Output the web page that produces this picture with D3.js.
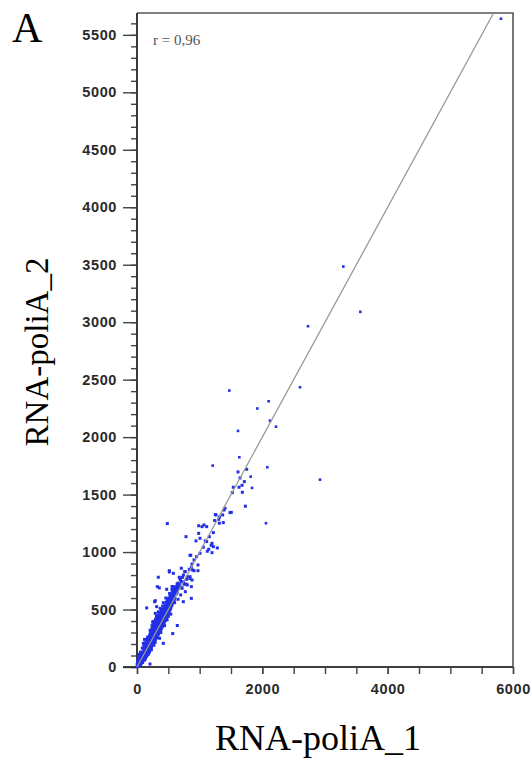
<!DOCTYPE html>
<html>
<head>
<meta charset="utf-8">
<script src="https://cdn.jsdelivr.net/npm/d3@7"></script>
<style>
  html, body { margin: 0; padding: 0; background: #fff; }
  svg { display: block; }
</style>
</head>
<body>
<svg id="chart" width="532" height="760"></svg>
<script>
// Expression values, replicate 1 (x) vs replicate 2 (y)
const denseCloud = [
  [5,8],[10,4],[12,15],[18,10],[20,25],[25,18],[30,30],[35,22],[38,45],[42,35],[45,50],[50,40],
  [55,62],[58,48],[60,70],[65,55],[68,80],[70,62],[75,88],[78,70],[80,60],[85,95],[88,78],[90,105],
  [92,85],[95,70],[98,110],[100,92],[15,60],[25,80],[40,110],[8,40],[30,95],[55,130],[20,45],
  [60,20],[90,40],[120,60],[70,35],[45,15],[3,25],[28,55],[48,72],[62,100],[82,120],[15,35],
  [102,120],[105,98],[108,135],[110,85],[112,115],[115,140],[118,102],[120,125],[122,150],[125,110],
  [128,135],[130,95],[132,160],[135,122],[138,148],[140,130],[142,170],[145,115],[148,155],[150,140],
  [152,182],[155,125],[158,165],[160,150],[162,195],[165,138],[168,175],[170,160],[172,205],[175,145],
  [178,185],[180,168],[182,215],[185,150],[188,195],[190,178],[192,230],[195,162],[198,205],[200,188],
  [110,190],[130,210],[150,240],[85,165],[170,260],[120,240],[150,90],[180,110],[200,130],[165,105],
  [202,250],[205,175],[208,220],[210,198],[212,265],[215,185],[218,235],[220,210],[222,280],[225,195],
  [228,250],[230,222],[232,295],[235,205],[238,262],[240,232],[242,310],[245,215],[248,275],[250,245],
  [252,325],[255,228],[258,288],[260,255],[262,340],[265,238],[268,300],[270,268],[272,355],[275,250],
  [278,312],[280,278],[282,370],[285,260],[288,325],[290,290],[292,385],[295,270],[298,338],[300,300],
  [210,320],[240,360],[260,395],[230,150],[270,190],[290,215],[220,160],[250,390],
  [302,355],[305,282],[310,330],[315,295],[318,400],[320,340],[325,305],[328,375],[330,350],[335,315],
  [338,420],[340,362],[345,325],[348,395],[350,372],[355,335],[358,440],[360,385],[365,345],[368,410],
  [370,395],[375,355],[378,460],[380,405],[385,365],[388,430],[390,418],[395,375],[398,475],[400,428],
  [310,440],[340,480],[360,250],[330,260],[380,300],[300,410],[370,510],
  [405,388],[410,450],[415,400],[418,500],[420,462],[425,410],[430,485],[435,420],[440,470],[445,435],
  [450,520],[455,445],[460,495],[465,455],[470,540],[475,470],[480,510],[485,480],[490,560],[495,495],
  [500,530],[420,560],[460,600],[440,360],[480,410],[500,440],[410,530],
  [505,505],[510,575],[515,520],[520,550],[528,540],[535,600],[540,560],[548,575],[555,620],[560,590],
  [568,605],[575,650],[580,615],[590,640],[600,660],[610,630],[620,690],[630,665],[640,720],[650,680],
  [520,640],[560,700],[540,460],[600,560],[580,700]
];

// second pass through the same band, filling the spread either side of the diagonal
const denseSpread = [
  [33,12],[47,28],[52,83],[63,38],[73,110],[77,52],[84,45],[96,128],[103,63],[107,160],[113,78],
  [117,170],[124,88],[127,185],[133,72],[137,100],[143,205],[146,98],[153,118],[157,215],[163,122],
  [167,230],[173,128],[177,248],[183,135],[187,160],[193,145],[197,270],[203,150],[207,285],[213,165],
  [217,300],[223,172],[227,315],[233,180],[237,330],[243,190],[247,345],[253,200],[257,360],[263,210],
  [267,375],[273,215],[277,292],[283,228],[287,400],[293,240],[297,415],[303,250],[307,365],[313,258],
  [317,430],[323,270],[327,445],[333,282],[337,392],[343,290],[347,455],[353,300],[357,408],[363,310],
  [367,470],[373,322],[377,425],[383,330],[387,490],[393,340],[397,445],[403,350],[407,500],[413,362],
  [417,455],[423,375],[427,520],[433,385],[437,490],[443,398],[447,535],[453,410],[457,510],[463,420],
  [467,565],[473,430],[477,530],[483,445],[487,585],[493,455],[497,555],[503,470],[507,600],[513,480],
  [517,570],[523,495],[527,620],[533,505],[537,585],[543,520],[547,640],[553,535],[557,610],[563,550],
  [567,660],[573,560],[577,630],[583,575],[587,680],[593,585],[597,610],[603,600],[613,655],[623,640],
  [633,700],[643,655],[653,730],[663,690],[673,720],[683,700],[693,760],[705,740],[715,690],[725,780],
  [740,800],[755,720],[770,830]
];

const midRange = [
  [1112,1091],[1197,1076],[1197,995],[1144,1024],[1058,1042],[1005,989],[952,960],[846,972],
  [910,931],[878,896],[973,888],[888,844],[835,850],[761,829],[707,859],[516,827],[580,815],
  [846,786],[793,763],[739,742],[675,781],[324,699],[474,676],[803,714],[867,699],[718,685],
  [633,670],[771,655],[697,627],[590,612],[654,589],[516,583],[558,641],[282,568],[314,525],
  [739,568],[867,597],[782,1134],[857,972],[984,1163],[1037,1221],[941,1097],[1005,1120],
  [1090,1097],[1154,1134],[1218,1169],[1261,1323],[1303,1285],[1377,1256],[1484,1343],
  [1388,1366],[1184,1059],[1218,1047],[1282,1036],[1122,1007],[867,867],[973,838],[910,838],
  [516,838],[340,781],[356,688],[155,514],[846,769],[803,786],[782,722],[878,757],[686,769],
  [633,639],[558,674],[643,361],[570,291],[420,206],[292,577],[292,467],[207,26],[101,206],
  [484,1248],[984,1229],[1069,1236],[1112,1221],[1239,1274],[1314,1251],[1367,1323],[1314,1305],
  [1250,1326],[1404,1381],[1505,1346],[1521,1517],[1537,1564],[1628,1564],[1681,1520],
  [1676,1581],[1713,1613],[1644,1645],[1612,1697],[1750,1720],[1729,1399]
];

const outliers = [
  [5808,5640],[3292,3484],[3564,3090],[2729,2965],[2601,2434],[2101,2312],[1920,2249],
  [2122,2143],[2218,2091],[2079,1738],[1814,1656],[1835,1558],[2920,1630],[2058,1251],
  [1473,2405],[1612,2054],[1633,1825],[1208,1752]
];

const correlationLabel = "r = 0,96";
const panelLabel = "A";
const xTitle = "RNA-poliA_1";
const yTitle = "RNA-poliA_2";
const xTickLabels = [0, 2000, 4000, 6000];
const yTickLabels = [0, 500, 1000, 1500, 2000, 2500, 3000, 3500, 4000, 4500, 5000, 5500];
const fitLine = [[0, 0], [5690, 5690]];

const svg = d3.select("#chart");
const plotLeft = 137, plotRight = 513, plotTop = 13, plotBottom = 667;

const x = d3.scaleLinear().domain([0, 6000]).range([plotLeft, plotRight]);
const y = d3.scaleLinear().domain([0, 5690]).range([plotBottom, plotTop]);

const tickFont = "'Liberation Sans', Arial, sans-serif";
const serif = "'Liberation Serif', 'Times New Roman', serif";

// clip for marks
svg.append("clipPath").attr("id", "plotClip")
  .append("rect").attr("x", plotLeft - 2).attr("y", plotTop)
  .attr("width", plotRight - plotLeft + 2).attr("height", plotBottom - plotTop + 3);

// frame (top and right)
svg.append("path")
  .attr("d", `M${plotLeft},${plotTop}H${plotRight}V${plotBottom}`)
  .attr("fill", "none").attr("stroke", "#555").attr("stroke-width", 1.6);

// y axis: minor ticks every 100, major every 500
const yAxisMinor = d3.axisLeft(y).tickValues(d3.range(0, 5700, 100)).tickSize(6).tickFormat("");
const yAxisMajor = d3.axisLeft(y).tickValues(yTickLabels).tickSize(14).tickPadding(6)
  .tickFormat(d3.format("d"));

const gyMinor = svg.append("g").attr("transform", `translate(${plotLeft},0)`).call(yAxisMinor);
const gyMajor = svg.append("g").attr("transform", `translate(${plotLeft},0)`).call(yAxisMajor);
[gyMinor, gyMajor].forEach(g => {
  g.select(".domain").attr("d", `M0,${plotTop}V${plotBottom}`)
    .attr("stroke", "#333").attr("stroke-width", 1.6);
  g.selectAll(".tick line").attr("stroke", "#444").attr("stroke-width", 1.4);
});
gyMajor.selectAll(".tick text")
  .attr("font-family", tickFont).attr("font-weight", "bold").attr("font-size", 14.5)
  .attr("letter-spacing", "0.6px")
  .attr("fill", "#2a2a2a");

// x axis: ticks every 500, labels every 2000
const xAxisMinor = d3.axisBottom(x).tickValues(d3.range(0, 6001, 500)).tickSize(7).tickFormat("");
const xAxisMajor = d3.axisBottom(x).tickValues(xTickLabels).tickSize(7).tickPadding(10)
  .tickFormat(d3.format("d"));
const gxMinor = svg.append("g").attr("transform", `translate(0,${plotBottom})`).call(xAxisMinor);
const gxMajor = svg.append("g").attr("transform", `translate(0,${plotBottom})`).call(xAxisMajor);
[gxMinor, gxMajor].forEach(g => {
  g.select(".domain").attr("d", `M${plotLeft - 14},0H${plotRight}`)
    .attr("stroke", "#333").attr("stroke-width", 1.6);
  g.selectAll(".tick line").attr("stroke", "#444").attr("stroke-width", 1.4);
});
gxMajor.selectAll(".tick text")
  .attr("font-family", tickFont).attr("font-weight", "bold").attr("font-size", 14.5)
  .attr("letter-spacing", "0.6px")
  .attr("fill", "#2a2a2a");

// scatter points: cloud points slightly larger than isolated ones
const plot = svg.append("g").attr("clip-path", "url(#plotClip)");
const cloudPoints = denseCloud.concat(denseSpread, midRange);
const drawPoints = (data, size, cls) => {
  plot.selectAll(`rect.${cls}`).data(data).join("rect")
    .attr("class", cls)
    .attr("x", d => x(d[0]) - size / 2)
    .attr("y", d => y(d[1]) - size / 2)
    .attr("width", size).attr("height", size)
    .attr("fill", "#2230e6");
};
drawPoints(cloudPoints, 3, "pt-cloud");
drawPoints(outliers, 2.6, "pt-out");

// fitted line
plot.append("line")
  .attr("x1", x(fitLine[0][0])).attr("y1", y(fitLine[0][1]))
  .attr("x2", x(fitLine[1][0])).attr("y2", y(fitLine[1][1]))
  .attr("stroke", "#999").attr("stroke-width", 1.3);

// correlation note
svg.append("text")
  .attr("x", 153).attr("y", 45)
  .attr("font-family", serif).attr("font-size", 15).attr("fill", "#555")
  .text(correlationLabel);

// panel letter
svg.append("text")
  .attr("x", 12).attr("y", 42)
  .attr("font-family", serif).attr("font-size", 42).attr("fill", "#000")
  .text(panelLabel);

// axis titles
svg.append("text")
  .attr("x", 318).attr("y", 750)
  .attr("text-anchor", "middle")
  .attr("font-family", serif).attr("font-size", 36).attr("fill", "#000")
  .text(xTitle);

svg.append("text")
  .attr("transform", "translate(48,352) rotate(-90)")
  .attr("text-anchor", "middle")
  .attr("font-family", serif).attr("font-size", 33).attr("fill", "#000")
  .text(yTitle);
</script>
</body>
</html>
